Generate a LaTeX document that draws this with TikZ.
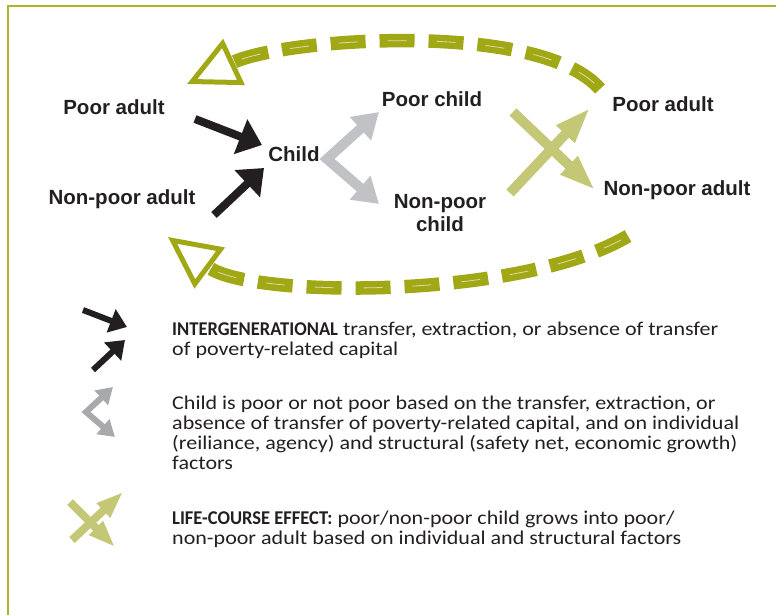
\documentclass[tikz,border=0pt]{standalone}
\usepackage{fontspec}
\setmainfont{Liberation Sans}
\newfontfamily\keyfont{Carlito}[FakeStretch=1.13]
\newfontfamily\keyboldfont{Carlito}[FakeStretch=0.95]
\newcommand\keyhead[1]{{\keyboldfont\bfseries #1}}
\usetikzlibrary{arrows.meta}

\definecolor{inkblack}{RGB}{35,31,32}
\definecolor{olivedash}{RGB}{160,168,22}
\definecolor{oliveframe}{RGB}{172,180,42}
\definecolor{olivelight}{RGB}{196,200,118}
\definecolor{childgrey}{RGB}{192,194,197}
\definecolor{keygrey}{RGB}{167,169,172}

\begin{document}
\begin{tikzpicture}[x=1pt,y=-1pt,
    word/.style={font=\fontsize{20.5}{23}\selectfont\bfseries, text=inkblack, align=center, inner sep=0pt},
    keytext/.style={font=\keyfont\fontsize{19.5}{20}\selectfont, text=inkblack, align=left, anchor=west, inner sep=0pt},
    transfer/.style={draw=inkblack, line width=8pt, -{Triangle[length=23pt,width=36pt]}},
    outcome/.style={draw=childgrey, line width=10pt, line join=miter, {Triangle[length=25pt,width=30pt]}-{Triangle[length=25pt,width=30pt]}},
    lifecourse/.style={draw=olivelight, line width=10pt, -{Triangle[length=36pt,width=23pt]}},
    cycleline/.style={draw=olivedash, line width=13.5pt, dash pattern=on 35pt off 14pt, -{Triangle[open,length=52pt,width=50pt,line width=5pt]}},
    cyclegleam/.style={draw=white, line width=0.8pt, opacity=0.6, dash pattern=on 19pt off 30pt, dash phase=41pt, shorten >=50pt}]
    \useasboundingbox (0,0) rectangle (776,615);

    % frame
    \draw[oliveframe, line width=2pt] (776,6) -- (8,6) -- (8,615);

    % generations
    \node[word] (lpa) at (114,107) {Poor adult};
    \node[word] (lnpa) at (122,199) {Non-poor adult};
    \node[word] (child) at (294,154) {Child};
    \node[word] (pc) at (432,99) {Poor child};
    \node[word] (npc) at (440,213) {Non-poor\\child};
    \node[word] (rpa) at (663,104) {Poor adult};
    \node[word] (rnpa) at (677,190) {Non-poor adult};

    % arrow ends
    \coordinate (lpa-out) at (195,119);
    \coordinate (lnpa-out) at (214,215);
    \coordinate (child-in1) at (262,145);
    \coordinate (child-in2) at (264,168);
    \coordinate (child-out) at (327,159);
    \coordinate (pc-in) at (379,112);
    \coordinate (npc-in) at (379,204);
    \coordinate (pc-from) at (513,112);
    \coordinate (rnpa-in) at (595,190);
    \coordinate (npc-from) at (510,193);
    \coordinate (rpa-in) at (590,108);
    \coordinate (rpa-up) at (600,89);
    \coordinate (lpa-up) at (187,84);
    \coordinate (rnpa-dn) at (628,236);
    \coordinate (lnpa-dn) at (168,237);

    % back to the next generation
    \draw[cycleline] (rpa-up) .. controls (540,20) and (285,38) .. (lpa-up);
    \draw[cyclegleam] (rpa-up) .. controls (540,20) and (285,38) .. (lpa-up);
    \draw[cycleline] (rnpa-dn) .. controls (520,300) and (250,298) .. (lnpa-dn);
    \draw[cyclegleam] (rnpa-dn) .. controls (520,300) and (250,298) .. (lnpa-dn);

    % intergenerational transfer
    \draw[transfer] (lpa-out) -- (child-in1);
    \draw[transfer] (lnpa-out) -- (child-in2);

    % poor or not poor
    \draw[outcome] (pc-in) -- (child-out) -- (npc-in);

    % life course
    \draw[lifecourse] (pc-from) -- (rnpa-in);
    \draw[lifecourse] (npc-from) -- (rpa-in);

    % key
    \coordinate (k1a) at (83,310);
    \coordinate (k1b) at (127,327);
    \coordinate (k2a) at (93,370);
    \coordinate (k2b) at (125,340);
    \draw[transfer, line width=6pt, -{Triangle[length=17pt,width=24pt]}] (k1a) -- (k1b);
    \draw[transfer, line width=6pt, -{Triangle[length=17pt,width=24pt]}] (k2a) -- (k2b);
    \node[keytext] (key1) at (172,340) {\keyhead{INTERGENERATIONAL} transfer, extraction, or absence of transfer\\of poverty-related capital};

    \coordinate (k3a) at (113,387);
    \coordinate (k3b) at (86,412);
    \coordinate (k3c) at (115,437);
    \draw[outcome, draw=keygrey, line width=6pt, {Triangle[length=16pt,width=19pt]}-{Triangle[length=16pt,width=19pt]}] (k3a) -- (k3b) -- (k3c);
    \node[keytext] (key2) at (172,433) {Child is poor or not poor based on the transfer, extraction, or\\absence of transfer of poverty-related capital, and on individual\\(reiliance, agency) and structural (safety net, economic growth)\\factors};

    \coordinate (k4a) at (70,502);
    \coordinate (k4b) at (115,547);
    \coordinate (k4c) at (72,540);
    \coordinate (k4d) at (123,492);
    \draw[lifecourse, line width=8pt, -{Triangle[length=27pt,width=18pt]}] (k4a) -- (k4b);
    \draw[lifecourse, line width=8pt, -{Triangle[length=27pt,width=18pt]}] (k4c) -- (k4d);
    \node[keytext] (key3) at (172,529) {\keyhead{LIFE-COURSE EFFECT:} poor/non-poor child grows into poor/\\non-poor adult based on individual and structural factors};
\end{tikzpicture}
\end{document}
